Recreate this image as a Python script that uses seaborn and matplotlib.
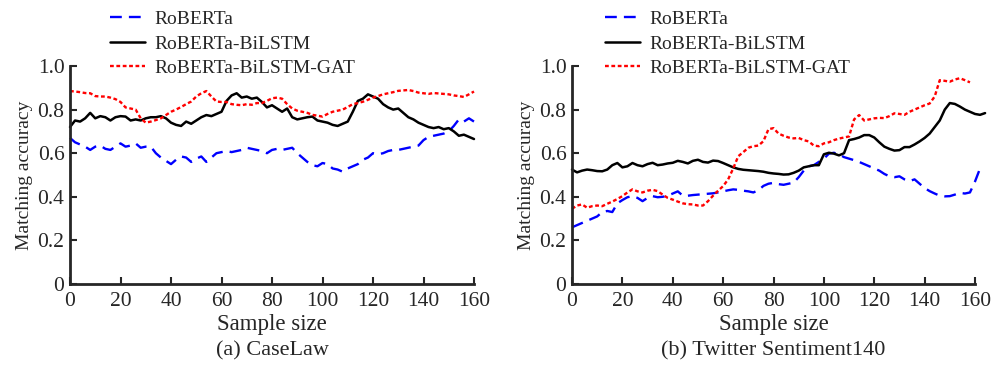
import matplotlib
matplotlib.use("Agg")
import matplotlib.pyplot as plt
import seaborn as sns
import pandas as pd

# ---------------- data ----------------
series_names = ["RoBERTa", "RoBERTa-BiLSTM", "RoBERTa-BiLSTM-GAT"]
panel_titles = ["(a) CaseLaw", "(b) Twitter Sentiment140"]
x_label = "Sample size"
y_label = "Matching accuracy"
x_ticks = [0, 20, 40, 60, 80, 100, 120, 140, 160]
y_ticks = [0, 0.2, 0.4, 0.6, 0.8, 1.0]
y_tick_labels = ["0", "0.2", "0.4", "0.6", "0.8", "1.0"]

# (a) CaseLaw
caselaw_x = list(range(0, 161, 2))
caselaw_roberta = [
    0.67, 0.65, 0.64, 0.63, 0.615, 0.63, 0.635, 0.62, 0.615, 0.63,
    0.645, 0.63, 0.635, 0.645, 0.625, 0.63, 0.63, 0.6, 0.58, 0.565,
    0.55, 0.57, 0.585, 0.58, 0.56, 0.575, 0.585, 0.56, 0.58, 0.6,
    0.605, 0.61, 0.605, 0.61, 0.615, 0.625, 0.62, 0.615, 0.61, 0.6,
    0.615, 0.62, 0.615, 0.62, 0.625, 0.6, 0.58, 0.56, 0.545, 0.54,
    0.555, 0.55, 0.53, 0.525, 0.515, 0.53, 0.54, 0.55, 0.57, 0.58,
    0.6, 0.595, 0.6, 0.61, 0.615, 0.615, 0.62, 0.625, 0.63, 0.635,
    0.66, 0.675, 0.68, 0.685, 0.69, 0.7, 0.725, 0.755, 0.745, 0.76,
    0.745]
caselaw_bilstm = [
    0.72, 0.75, 0.745, 0.76, 0.785, 0.76, 0.77, 0.765, 0.75, 0.765,
    0.77, 0.768, 0.75, 0.755, 0.75, 0.76, 0.765, 0.765, 0.77, 0.76,
    0.74, 0.73, 0.725, 0.745, 0.735, 0.75, 0.765, 0.775, 0.77, 0.78,
    0.79, 0.84, 0.865, 0.875, 0.855, 0.86, 0.85, 0.855, 0.835, 0.81,
    0.82, 0.805, 0.79, 0.805, 0.765, 0.755, 0.76, 0.765, 0.768, 0.75,
    0.745, 0.74, 0.73, 0.725, 0.735, 0.745, 0.79, 0.84, 0.85, 0.87,
    0.86, 0.85, 0.825, 0.81, 0.8, 0.805, 0.785, 0.765, 0.755, 0.74,
    0.73, 0.72, 0.715, 0.72, 0.71, 0.715, 0.7, 0.68, 0.685, 0.675,
    0.665]
caselaw_gat = [
    0.885, 0.883, 0.88, 0.876, 0.875, 0.862, 0.86, 0.86, 0.855, 0.848,
    0.835, 0.81, 0.805, 0.8, 0.76, 0.74, 0.745, 0.752, 0.76, 0.775,
    0.79, 0.8, 0.812, 0.825, 0.837, 0.86, 0.875, 0.885, 0.86, 0.837,
    0.835, 0.835, 0.825, 0.822, 0.82, 0.825, 0.822, 0.83, 0.83, 0.84,
    0.852, 0.855, 0.85, 0.825, 0.805, 0.795, 0.79, 0.785, 0.776, 0.772,
    0.768, 0.78, 0.79, 0.795, 0.8, 0.812, 0.825, 0.83, 0.836, 0.845,
    0.855, 0.862, 0.87, 0.875, 0.88, 0.886, 0.888, 0.89, 0.885, 0.878,
    0.875, 0.872, 0.876, 0.874, 0.872, 0.87, 0.865, 0.862, 0.858, 0.87,
    0.883]

# (b) Twitter Sentiment140
twitter_roberta_x = list(range(0, 163, 2))
twitter_roberta = [
    0.26, 0.27, 0.28, 0.29, 0.30, 0.31, 0.33, 0.335, 0.33, 0.37,
    0.385, 0.398, 0.403, 0.395, 0.38, 0.395, 0.403, 0.398, 0.4, 0.405,
    0.415, 0.425, 0.405, 0.405, 0.408, 0.41, 0.412, 0.414, 0.416, 0.42,
    0.425, 0.43, 0.434, 0.432, 0.428, 0.425, 0.42, 0.43, 0.45, 0.46,
    0.464, 0.458, 0.455, 0.46, 0.465, 0.49, 0.52, 0.54, 0.545, 0.56,
    0.575, 0.598, 0.602, 0.595, 0.582, 0.575, 0.568, 0.56, 0.55, 0.54,
    0.53, 0.52, 0.505, 0.494, 0.49, 0.494, 0.48, 0.472, 0.48, 0.46,
    0.44, 0.426, 0.415, 0.405, 0.402, 0.403, 0.41, 0.418, 0.415, 0.42,
    0.47, 0.53]
twitter_bilstm_x = list(range(0, 165, 2))
twitter_bilstm = [
    0.525, 0.512, 0.52, 0.525, 0.522, 0.518, 0.517, 0.525, 0.545, 0.555,
    0.535, 0.54, 0.555, 0.545, 0.54, 0.55, 0.556, 0.545, 0.548, 0.553,
    0.556, 0.565, 0.56, 0.553, 0.565, 0.57, 0.56, 0.557, 0.566, 0.564,
    0.555, 0.545, 0.535, 0.528, 0.524, 0.522, 0.52, 0.518, 0.515, 0.51,
    0.507, 0.505, 0.502, 0.503, 0.51, 0.52, 0.535, 0.54, 0.545, 0.545,
    0.595, 0.602, 0.598, 0.59, 0.6, 0.66, 0.665, 0.672, 0.683, 0.683,
    0.672, 0.65, 0.63, 0.62, 0.612, 0.614, 0.628, 0.628, 0.64, 0.654,
    0.67, 0.69, 0.72, 0.75, 0.8, 0.83, 0.826, 0.814, 0.8, 0.79,
    0.78, 0.776, 0.784]
twitter_gat_x = list(range(0, 159, 2))
twitter_gat = [
    0.345, 0.36, 0.365, 0.35, 0.357, 0.36, 0.357, 0.368, 0.378, 0.39,
    0.403, 0.42, 0.434, 0.425, 0.42, 0.428, 0.432, 0.426, 0.41, 0.395,
    0.387, 0.378, 0.37, 0.366, 0.365, 0.36, 0.36, 0.38, 0.405, 0.428,
    0.449, 0.48, 0.53, 0.586, 0.605, 0.625, 0.632, 0.635, 0.655, 0.71,
    0.715, 0.69, 0.68, 0.672, 0.668, 0.67, 0.66, 0.654, 0.635, 0.632,
    0.645, 0.65, 0.66, 0.667, 0.672, 0.677, 0.755, 0.775, 0.75, 0.755,
    0.76, 0.762, 0.761, 0.77, 0.783, 0.78, 0.776, 0.79, 0.8, 0.81,
    0.82, 0.828, 0.86, 0.935, 0.932, 0.928, 0.938, 0.944, 0.935, 0.925]

panels = [
    [(caselaw_x, caselaw_roberta), (caselaw_x, caselaw_bilstm), (caselaw_x, caselaw_gat)],
    [(twitter_roberta_x, twitter_roberta), (twitter_bilstm_x, twitter_bilstm),
     (twitter_gat_x, twitter_gat)],
]

# ---------------- style ----------------
sns.set_style("ticks")
plt.rcParams["font.family"] = ["Liberation Serif", "DejaVu Serif"]
plt.rcParams["xtick.direction"] = "in"
plt.rcParams["ytick.direction"] = "in"

colors = ["#0000ff", "#000000", "#ff0000"]
dash_styles = [(0, (5, 3)), "-", (0, (1.6, 1.1))]
widths = [1.7, 1.8, 1.7]

fig = plt.figure(figsize=(9.97, 3.65), dpi=100)
ax_rects = [
    [70 / 997, 81 / 365, 404 / 997, 218 / 365],
    [572 / 997, 81 / 365, 403 / 997, 218 / 365],
]

for p, rect in enumerate(ax_rects):
    ax = fig.add_axes(rect)
    for s, (xs, ys) in enumerate(panels[p]):
        df = pd.DataFrame({"x": xs, "y": ys})
        sns.lineplot(data=df, x="x", y="y", ax=ax, color=colors[s],
                     linestyle=dash_styles[s], linewidth=widths[s],
                     label=series_names[s], clip_on=False)
    ax.set_xlim(0, 160)
    ax.set_ylim(0, 1.0)
    ax.set_xticks(x_ticks)
    ax.set_yticks(y_ticks)
    ax.set_yticklabels(y_tick_labels)
    ax.tick_params(axis="x", labelsize=15.5, width=1.5, length=5, pad=6)
    ax.tick_params(axis="y", labelsize=15.5, width=1.5, length=5, pad=4)
    ax.set_xlabel(x_label, fontsize=16.5, labelpad=2)
    ax.set_ylabel(y_label, fontsize=14, labelpad=3)
    for side in ["top", "right"]:
        ax.spines[side].set_visible(False)
    for side in ["left", "bottom"]:
        ax.spines[side].set_linewidth(2)
    leg = ax.legend(loc="upper left", bbox_to_anchor=(0.099 if p == 0 else 0.082, 1.255),
                    frameon=False, fontsize=14, handlelength=1.8,
                    handletextpad=0.5, labelspacing=0.36, borderpad=0,
                    borderaxespad=0)
    cx = rect[0] + rect[2] / 2
    fig.text(cx, 14 / 365, panel_titles[p], ha="center", va="center", fontsize=16)

fig.savefig("out.png", dpi=100)
